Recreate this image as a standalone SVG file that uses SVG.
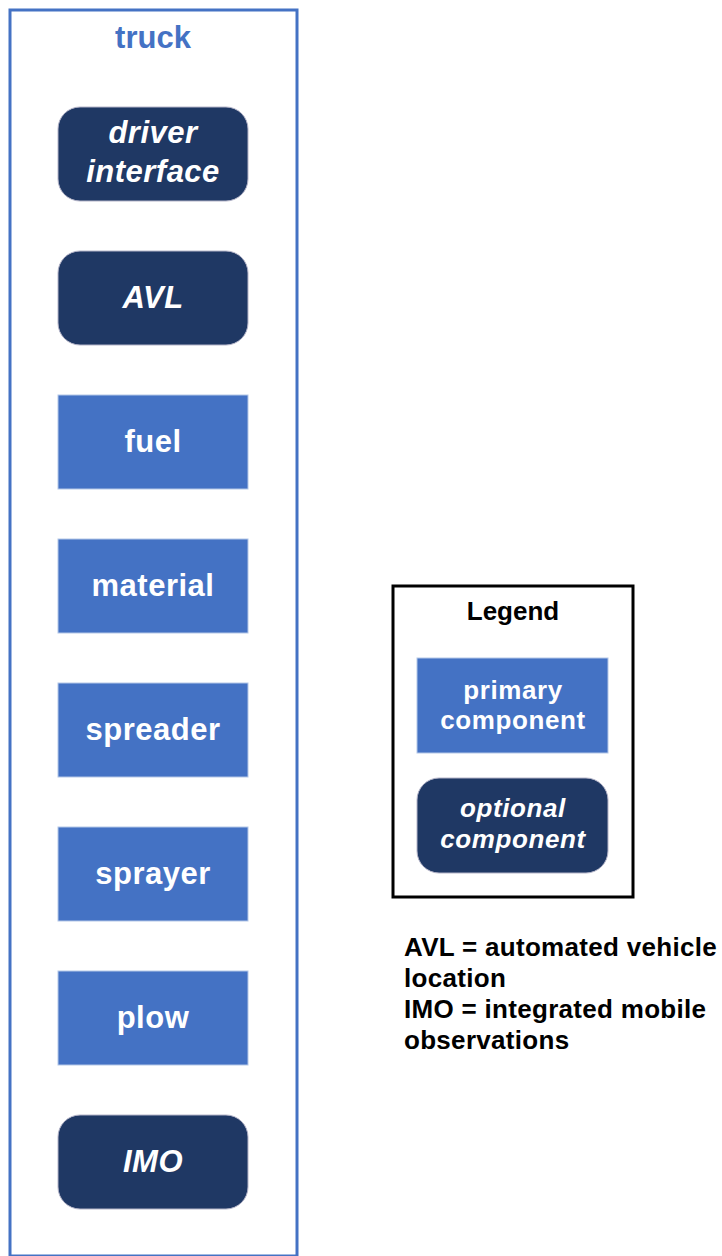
<svg xmlns="http://www.w3.org/2000/svg" width="722" height="1256" viewBox="0 0 722 1256">
<style>
text{font-family:"Liberation Sans",Arial,sans-serif;font-weight:bold;text-anchor:middle}
.p{fill:#4472C4;stroke:#B4C7E7;stroke-width:1}
.o{fill:#1F3864;stroke:#B4B4C8;stroke-width:1}
.nt{fill:#fff;font-size:31px;letter-spacing:0.5px}
.it{font-style:italic}
.lt{fill:#fff;font-size:26px;letter-spacing:0.6px}
.note{font-size:26px;text-anchor:start;fill:#000;letter-spacing:0.3px}
</style>
<rect width="722" height="1256" fill="#fff"/>
<g id="truck">
<rect x="10" y="10" width="287" height="1246" fill="none" stroke="#4472C4" stroke-width="3"/>
<text x="153" y="48" font-size="31" fill="#4472C4">truck</text>
</g>
<g id="driver-interface">
<rect class="o" x="58" y="107" width="190" height="94" rx="22"/>
<text class="nt it" x="153" y="143">driver</text>
<text class="nt it" x="153" y="182">interface</text>
</g>
<g id="avl">
<rect class="o" x="58" y="251" width="190" height="94" rx="22"/>
<text class="nt it" x="153" y="308">AVL</text>
</g>
<g id="fuel">
<rect class="p" x="58" y="395" width="190" height="94"/>
<text class="nt" x="153" y="452">fuel</text>
</g>
<g id="material">
<rect class="p" x="58" y="539" width="190" height="94"/>
<text class="nt" x="153" y="596">material</text>
</g>
<g id="spreader">
<rect class="p" x="58" y="683" width="190" height="94"/>
<text class="nt" x="153" y="740">spreader</text>
</g>
<g id="sprayer">
<rect class="p" x="58" y="827" width="190" height="94"/>
<text class="nt" x="153" y="884">sprayer</text>
</g>
<g id="plow">
<rect class="p" x="58" y="971" width="190" height="94"/>
<text class="nt" x="153" y="1028">plow</text>
</g>
<g id="imo">
<rect class="o" x="58" y="1115" width="190" height="94" rx="22"/>
<text class="nt it" x="153" y="1172">IMO</text>
</g>
<g id="legend">
<rect x="393" y="586" width="240" height="311" fill="#fff" stroke="#000" stroke-width="3"/>
<text x="513" y="620" font-size="26" fill="#000">Legend</text>
<rect class="p" x="417" y="658" width="191" height="95"/>
<text class="lt" x="513" y="699">primary</text>
<text class="lt" x="513" y="729">component</text>
<rect class="o" x="417" y="778" width="191" height="95" rx="22"/>
<text class="lt it" x="513" y="817">optional</text>
<text class="lt it" x="513" y="848">component</text>
</g>
<g id="notes">
<text class="note" x="404" y="956">AVL = automated vehicle</text>
<text class="note" x="404" y="987">location</text>
<text class="note" x="404" y="1018">IMO = integrated mobile</text>
<text class="note" x="404" y="1049">observations</text>
</g>
<g id="connectors"></g>
</svg>
